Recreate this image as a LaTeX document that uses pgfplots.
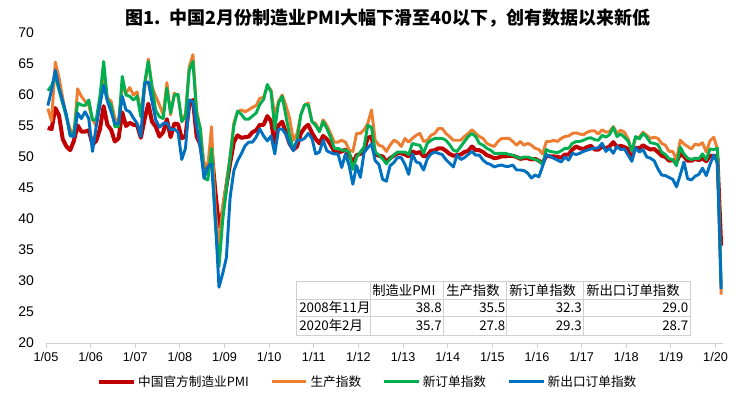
\documentclass[border=0pt]{standalone}
\usepackage{pgfplots}
\pgfplotsset{compat=1.18}
\usepackage{pgfplotstable}
\usepackage{fontspec}
\setmainfont{Liberation Sans}
\newfontfamily\cjk{Noto Sans CJK SC}
\definecolor{cred}{HTML}{C00000}
\definecolor{corange}{HTML}{ED7D31}
\definecolor{cgreen}{HTML}{00B050}
\definecolor{cblue}{HTML}{0070C0}
\definecolor{cgrid}{HTML}{D0D0D0}
\pgfplotstableread{
pmi prod new exp
54.7 57.8 60.7 58.3
54.5 55.8 61.5 60.8
57.9 65.3 63.0 64.0
56.7 62.8 60.8 61.1
52.9 59.5 58.6 59.0
51.7 56.3 56.4 56.8
51.1 54.5 53.6 53.4
52.6 53.5 54.0 53.3
55.1 61.0 58.7 57.1
54.1 59.8 58.4 56.2
54.1 59.0 58.3 57.3
54.3 58.3 59.2 56.2
52.0 56.0 56.0 50.9
52.6 55.0 56.0 54.9
54.5 58.5 59.8 58.4
58.2 63.5 65.4 61.6
55.2 59.5 59.2 59.0
54.4 59.0 58.4 57.3
52.5 56.2 54.9 55.4
53.0 55.8 54.9 55.4
57.2 61.5 63.0 59.8
55.0 60.3 60.0 57.6
55.5 61.2 59.8 57.3
55.2 60.0 59.2 56.3
55.1 60.5 59.8 55.4
53.1 57.0 56.5 53.3
56.1 60.8 61.9 61.9
58.6 65.8 65.4 62.1
55.7 61.3 61.3 59.0
54.9 59.8 57.5 56.0
53.3 58.4 56.5 54.8
54.0 56.8 56.2 55.4
56.1 62.0 61.1 55.5
53.2 56.8 57.1 54.4
55.4 60.3 60.0 54.5
55.3 59.8 60.1 54.0
53.0 55.8 55.7 49.6
53.4 57.0 56.5 51.4
58.4 64.5 64.0 59.2
59.2 66.5 65.4 58.9
53.3 57.5 57.0 54.9
52.0 54.5 54.5 51.4
48.4 48.7 46.6 46.6
48.4 48.4 46.3 48.4
51.2 54.9 51.4 48.9
44.6 41.5 39.5 40.3
38.8 35.5 32.3 29.0
41.2 42.0 39.8 31.2
45.3 45.8 45.0 33.8
49.0 50.1 50.0 43.5
52.4 55.5 55.0 47.8
53.5 57.3 57.4 49.4
53.1 57.6 56.9 50.5
53.2 57.3 56.1 51.8
53.3 57.6 56.1 52.4
54.0 58.0 56.6 52.4
54.3 58.3 57.1 53.2
55.2 59.5 58.5 54.5
55.2 59.6 59.3 53.4
56.6 61.4 61.7 52.6
55.8 60.8 60.5 53.4
52.0 56.5 54.5 50.5
55.1 59.0 58.7 54.5
55.7 60.0 59.8 54.5
53.9 58.3 56.6 53.7
52.1 56.2 53.5 52.1
51.2 52.7 51.2 51.0
51.7 53.8 52.6 52.7
53.8 56.8 56.8 52.7
54.7 58.4 58.4 53.0
55.2 58.7 58.4 53.8
53.9 55.7 55.7 53.0
52.9 55.4 55.1 50.5
52.2 54.1 54.1 50.8
53.4 56.0 55.7 52.7
52.9 55.1 54.6 51.0
52.0 53.8 53.2 50.7
50.9 52.4 51.4 50.5
50.7 52.4 51.4 50.5
50.9 52.7 51.1 48.3
51.2 52.4 51.1 50.5
50.4 51.1 50.8 48.6
49.0 50.9 48.0 45.6
50.3 53.8 50.0 48.6
50.5 53.8 50.8 46.7
51.0 54.4 51.6 50.7
53.1 55.4 55.1 51.5
53.3 57.6 54.8 52.1
50.4 52.7 50.8 49.4
50.2 51.9 50.3 48.8
50.1 51.7 49.7 46.4
49.2 50.9 48.9 46.1
49.8 51.9 49.7 48.6
50.2 52.7 50.3 49.1
50.6 52.4 50.8 49.9
50.6 51.7 50.8 49.9
50.4 53.0 50.8 48.8
50.1 52.4 50.4 47.2
50.9 53.0 52.2 50.5
50.6 53.5 52.0 49.2
50.8 53.8 51.9 49.0
50.1 52.5 50.6 47.9
50.3 52.7 52.2 49.7
51.0 53.5 52.7 50.5
51.1 53.8 53.0 50.8
51.4 54.6 53.0 50.6
51.4 54.6 53.0 50.4
51.0 53.8 52.7 49.6
50.5 53.3 52.0 49.0
50.2 52.7 51.1 48.4
50.3 52.7 50.9 50.3
50.4 52.7 51.7 49.6
50.8 53.3 52.5 49.9
51.0 53.8 53.3 50.4
51.7 54.4 53.8 50.9
51.1 53.8 53.3 50.3
51.1 53.3 52.2 50.3
50.8 53.0 51.9 49.5
50.3 52.2 51.4 49.0
50.1 51.9 51.1 48.8
49.8 51.7 50.6 48.4
49.9 52.5 50.6 48.6
50.1 53.0 50.6 48.7
50.1 53.0 50.6 48.5
50.2 53.0 50.4 48.5
50.2 52.5 50.3 48.7
50.0 51.9 50.0 47.9
49.7 52.5 49.8 47.9
49.8 51.9 50.0 47.8
49.8 52.2 50.0 47.4
49.6 51.9 49.8 46.6
49.7 51.4 49.6 47.1
49.4 51.2 49.4 46.8
49.0 50.5 48.8 48.5
50.2 52.5 51.2 50.4
50.1 52.5 50.9 50.1
50.1 52.7 50.8 49.8
50.0 52.5 50.7 49.5
49.9 53.0 51.0 49.2
50.4 53.3 51.4 50.0
50.4 53.4 51.4 49.5
51.2 53.8 52.2 50.6
51.7 53.9 52.5 50.4
51.4 53.7 52.5 50.6
51.3 53.6 52.7 50.9
51.6 54.0 53.0 51.1
51.8 54.2 53.1 51.3
51.2 54.2 52.8 51.4
51.2 53.7 52.7 51.5
51.7 54.4 53.5 52.2
51.4 54.0 53.2 50.9
51.7 54.1 53.6 51.4
52.4 54.9 54.8 50.6
51.6 53.8 53.3 51.7
51.8 54.3 53.7 51.2
51.6 54.0 53.2 51.3
51.3 52.9 52.6 50.3
50.3 50.9 51.0 49.3
51.5 53.1 53.3 51.5
51.4 53.2 52.9 50.8
51.9 54.0 53.8 51.2
51.5 53.5 53.2 50.0
51.2 53.0 52.3 49.8
51.3 53.2 52.2 49.4
50.8 53.0 52.0 48.1
50.2 52.2 50.8 47.1
50.0 51.9 50.4 47.0
49.4 50.9 49.7 46.7
49.5 50.9 49.6 46.4
49.2 49.5 48.6 45.2
50.5 52.7 51.6 47.1
50.1 52.1 50.5 49.2
49.4 51.7 49.8 46.5
49.4 51.3 49.6 46.3
49.7 52.1 49.8 46.9
49.5 51.9 49.7 47.2
49.8 52.3 50.5 48.2
49.3 50.8 49.6 47.0
50.2 52.6 51.3 48.8
50.2 53.2 51.2 50.3
50.0 51.3 51.4 49.0
35.7 27.8 29.3 28.7
}\pmidata
\begin{document}
\begin{tikzpicture}
\begin{scope}[x=0.75pt,y=-0.75pt]
\useasboundingbox (0,0) rectangle (746,396);
\end{scope}
\begin{axis}[
  at={(34.5pt,-257.25pt)}, anchor=south west,
  scale only axis, width=507.75pt, height=232.5pt,
  xmin=0, xmax=182, ymin=20, ymax=70,
  axis x line*=bottom, axis y line*=left,
  y axis line style={draw=none},
  x axis line style={draw=cgrid, line width=0.75pt},
  xtick={0,12,...,180},
  xticklabels={1/05,1/06,1/07,1/08,1/09,1/10,1/11,1/12,1/13,1/14,1/15,1/16,1/17,1/18,1/19,1/20},
  ytick={20,25,...,70},
  tick align=outside,
  major tick length=3.5pt,
  xtick style={draw=cgrid, line width=0.75pt},
  ytick style={draw=none},
  xticklabel style={font=\fontsize{9.5}{11}\selectfont},
  yticklabel style={font=\fontsize{10.5}{12}\selectfont, xshift=-2pt},
  /pgf/number format/assume math mode=true,
  clip=false,
  legend columns=4,
  legend style={at={(0.4756,-0.1248)}, anchor=center, draw=none, fill=none,
    font=\cjk\fontsize{9.5}{11}\selectfont,
    /tikz/every even column/.append style={column sep=14pt}},
  legend image code/.code={\draw[#1] (0pt,0pt) -- (26pt,0pt);},
]
\addplot[cred, line width=3pt, line join=round] table[x expr=\coordindex+0.5, y=pmi] {\pmidata};
\addplot[corange, line width=2.2pt, line join=round] table[x expr=\coordindex+0.5, y=prod] {\pmidata};
\addplot[cgreen, line width=2.2pt, line join=round] table[x expr=\coordindex+0.5, y=new] {\pmidata};
\addplot[cblue, line width=2.2pt, line join=round] table[x expr=\coordindex+0.5, y=exp] {\pmidata};
\legend{中国官方制造业PMI, 生产指数, 新订单指数, 新出口订单指数}
\end{axis}
\begin{scope}[x=0.75pt,y=-0.75pt]
\node[font=\cjk\bfseries\fontsize{13.5}{16}\selectfont] at (388,18) {图1.\ \ 中国2月份制造业PMI大幅下滑至40以下，创有数据以来新低};
\draw[draw=cgrid, line width=0.6pt, fill=white] (296,281.7) rectangle (690.7,335);
\foreach \yy in {299,316.7} \draw[draw=cgrid, line width=0.6pt] (296,\yy) -- (690.7,\yy);
\foreach \xx in {370,443.3,506.7,583.3} \draw[draw=cgrid, line width=0.6pt] (\xx,281.7) -- (\xx,335);
\begin{scope}[every node/.style={inner sep=0pt, font=\cjk\fontsize{10}{12}\selectfont}]
\node[anchor=west] at (372,290.3) {制造业PMI};
\node[anchor=west] at (446,290.3) {生产指数};
\node[anchor=west] at (509,290.3) {新订单指数};
\node[anchor=west] at (586,290.3) {新出口订单指数};
\node[anchor=west] at (299,307.9) {2008年11月};
\node[anchor=west] at (299,325.9) {2020年2月};
\node[anchor=east] at (442,307.9) {38.8};
\node[anchor=east] at (505.5,307.9) {35.5};
\node[anchor=east] at (582,307.9) {32.3};
\node[anchor=east] at (688.5,307.9) {29.0};
\node[anchor=east] at (442,325.9) {35.7};
\node[anchor=east] at (505.5,325.9) {27.8};
\node[anchor=east] at (582,325.9) {29.3};
\node[anchor=east] at (688.5,325.9) {28.7};
\end{scope}
\end{scope}
\end{tikzpicture}
\end{document}
